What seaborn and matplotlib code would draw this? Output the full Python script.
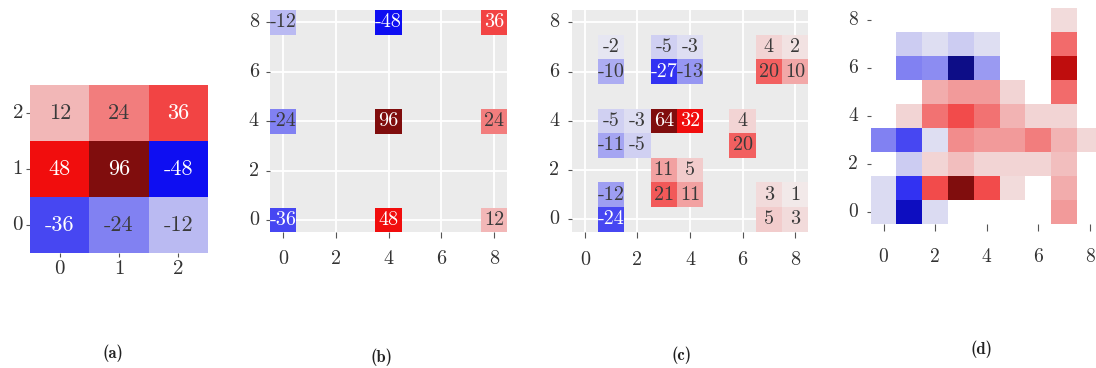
import numpy as np
import matplotlib
matplotlib.use("Agg")
import matplotlib.pyplot as plt
from matplotlib.colors import ListedColormap
import seaborn as sns

sns.set_theme(style="white")
plt.rcParams["font.family"] = ["cmr10", "DejaVu Serif"]
plt.rcParams["axes.formatter.use_mathtext"] = True

N = np.nan

# (a) 3x3 kernel, rows listed from y=0 upward
kernel_a = [
    [-36, -24, -12],
    [48, 96, -48],
    [12, 24, 36],
]

# (b) dilated kernel on a 9x9 grid, rows from y=0 upward
dilated_b = [
    [-36, N, N, N, 48, N, N, N, 12],
    [N] * 9,
    [N] * 9,
    [N] * 9,
    [-24, N, N, N, 96, N, N, N, 24],
    [N] * 9,
    [N] * 9,
    [N] * 9,
    [-12, N, N, N, -48, N, N, N, 36],
]

# (c) sparse response, rows from y=0 upward
sparse_c = [
    [N, -24, N, N, N, N, N, 5, 3],
    [N, -12, N, 21, 11, N, N, 3, 1],
    [N, N, N, 11, 5, N, N, N, N],
    [N, -11, -5, N, N, N, 20, N, N],
    [N, -5, -3, 64, 32, N, 4, N, N],
    [N] * 9,
    [N, -10, N, -27, -13, N, N, 20, 10],
    [N, -2, N, -5, -3, N, N, 4, 2],
    [N] * 9,
]

# (d) dense response, rows from y=0 upward (0 = empty cell)
dense_d = [
    [-5, -65, -5, 0, 0, 0, 0, 19, 0],
    [-5, -42, 36, 100, 36, 5, 0, 15, 0],
    [0, -8, 7, 11, 7, 7, 7, 11, 0],
    [-25, -37, -4, 22, 19, 19, 25, 14, 6],
    [0, 7, 28, 36, 28, 14, 7, 7, 0],
    [0, 0, 15, 19, 19, 7, 0, 29, 0],
    [0, -25, -22, -83, -19, 0, 0, 72, 0],
    [0, -8, -4, -8, -4, 0, 0, 29, 0],
    [0, 0, 0, 0, 0, 0, 0, 5, 0],
]

captions = ["(a)", "(b)", "(c)", "(d)"]

# slightly softened seismic palette
_base = plt.get_cmap("seismic")(np.linspace(0, 1, 256))
_base[:, :3] = 0.05 + 0.9 * _base[:, :3]
soft_seismic = ListedColormap(_base)

fig = plt.figure(figsize=(10.96, 3.68), dpi=100)
W, H = 1096, 368


def axes_px(x0, x1, y0, y1):
    return fig.add_axes([x0 / W, 1 - y1 / H, (x1 - x0) / W, (y1 - y0) / H])


def draw(ax, data, vmax, annot, step, grey, annot_size, tick_size,
         xpad, ypad, xlen):
    arr = np.array(data, dtype=float)
    n = arr.shape[0]
    mask = np.isnan(arr) | (arr == 0)
    sns.heatmap(arr, ax=ax, cmap=soft_seismic, vmin=-vmax, vmax=vmax,
                mask=mask, annot=annot, fmt=".0f", cbar=False,
                annot_kws=dict(size=annot_size))
    ax.set_ylim(0, n)
    ax.set_xlim(0, n)
    ticks = np.arange(0, n, step)
    ax.set_xticks(ticks + 0.5)
    ax.set_xticklabels([str(t) for t in ticks], rotation=0)
    ax.set_yticks(ticks + 0.5)
    ax.set_yticklabels([str(t) for t in ticks], rotation=0)
    ax.tick_params(bottom=True, left=True, width=0.8,
                   color="#555555", labelcolor="#333333",
                   labelsize=tick_size)
    ax.tick_params(axis="x", length=xlen, pad=xpad)
    ax.tick_params(axis="y", length=3, pad=ypad)
    for s in ax.spines.values():
        s.set_visible(False)
    if grey:
        ax.set_facecolor("#EBEBEB")
        ax.set_axisbelow(True)
        ax.grid(True, color="white", linewidth=1.3)
    for t in ax.texts:
        v = float(t.get_text())
        t.set_color("white" if abs(v) / vmax >= 0.35 else "#3a3a3a")


ax_a = axes_px(30, 208, 85, 253)
draw(ax_a, kernel_a, 96, True, 1, False, 16, 15, 2, 2, 3)

ax_b = axes_px(270, 507, 10, 232.5)
draw(ax_b, dilated_b, 96, True, 2, True, 14.5, 14.5, 9, 5, 4)

ax_c = axes_px(571.7, 808.3, 10, 231.7)
draw(ax_c, sparse_c, 64, True, 2, True, 14.5, 14.5, 10, 6, 4)

ax_d = axes_px(870.7, 1102.7, 8, 224)
draw(ax_d, dense_d, 100, False, 2, False, 14, 14, 12, 6, 5)

for label, (cx, cy) in zip(captions, [(113, 353), (382, 357), (682, 355), (982, 349)]):
    fig.text(cx / W, 1 - cy / H, label, ha="center", va="center",
             fontfamily="cmb10", fontsize=12, color="#222222")

fig.savefig("out.png", dpi=100)
